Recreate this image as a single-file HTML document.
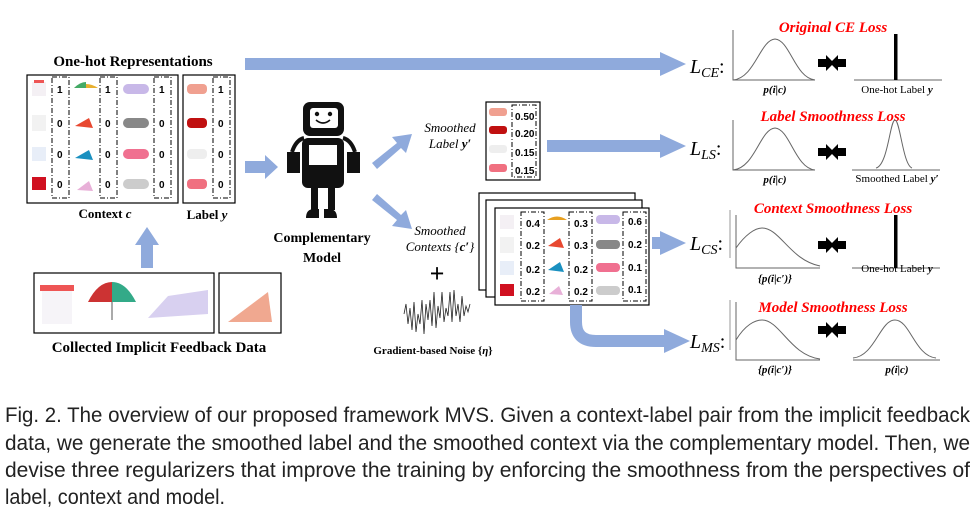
<!DOCTYPE html>
<html><head><meta charset="utf-8"><style>
html,body{margin:0;padding:0;background:#fff;}
svg{display:block}
.b{font-family:"Liberation Serif",serif;font-weight:bold;}
.i{font-family:"Liberation Serif",serif;font-style:italic;}
.r{font-family:"Liberation Serif",serif;font-style:italic;font-weight:bold;fill:#f00;font-size:15px;}
.n{font-family:"Liberation Sans",sans-serif;font-weight:bold;font-size:10px;}
.cap{font-family:"Liberation Sans Narrow","Liberation Sans",sans-serif;font-size:21px;fill:#222;}
</style></head><body>
<svg width="977" height="511" viewBox="0 0 977 511" xmlns="http://www.w3.org/2000/svg">
<defs>
<g id="dcol"><rect x="0" y="0" width="17" height="121" fill="none" stroke="#000" stroke-width="1" stroke-dasharray="5,2,1,2"/></g>
</defs>
<!-- One-hot -->
<text x="133" y="66" class="b" font-size="15" text-anchor="middle">One-hot Representations</text>
<rect x="27" y="75" width="151" height="128" fill="none" stroke="#000" stroke-width="1.2"/>
<rect x="183" y="75" width="52" height="128" fill="none" stroke="#000" stroke-width="1.2"/>
<use href="#dcol" x="52" y="77"/><use href="#dcol" x="100" y="77"/><use href="#dcol" x="154" y="77"/><use href="#dcol" x="213" y="77"/>
<g class="n">
<text x="57" y="93">1</text><text x="57" y="127">0</text><text x="57" y="158">0</text><text x="57" y="188">0</text>
<text x="105" y="93">1</text><text x="105" y="127">0</text><text x="105" y="158">0</text><text x="105" y="188">0</text>
<text x="159" y="93">1</text><text x="159" y="127">0</text><text x="159" y="158">0</text><text x="159" y="188">0</text>
<text x="218" y="93">1</text><text x="218" y="127">0</text><text x="218" y="158">0</text><text x="218" y="188">0</text>
</g>
<!-- product icons context -->
<g>
<rect x="32" y="82" width="14" height="14" fill="#f4f0f4"/><rect x="34" y="80" width="10" height="3" fill="#e55"/>
<rect x="32" y="115" width="14" height="16" fill="#f2f2f2"/>
<rect x="32" y="147" width="14" height="14" fill="#e8eef8"/>
<rect x="32" y="177" width="14" height="13" fill="#d01020"/>
<path d="M74 88 q12 -8 24 0 z" fill="#e8b030"/><path d="M74 88 q6 -6 12 -6 l0 6z" fill="#4a6"/>
<path d="M75 126 l14 -8 l4 10z" fill="#e84830"/>
<path d="M75 158 l14 -8 l4 10z" fill="#1a90c0"/>
<path d="M77 190 l12 -9 l4 10z" fill="#e8b0d8"/>
<rect x="123" y="84" width="26" height="10" rx="5" fill="#c8b8e8"/>
<rect x="123" y="118" width="26" height="10" rx="5" fill="#888"/>
<rect x="123" y="149" width="26" height="10" rx="5" fill="#f07090"/>
<rect x="123" y="179" width="26" height="10" rx="5" fill="#ccc"/>
<rect x="187" y="84" width="20" height="10" rx="4" fill="#f0a090"/>
<rect x="187" y="118" width="20" height="10" rx="4" fill="#c01010"/>
<rect x="187" y="149" width="20" height="10" rx="4" fill="#eee"/>
<rect x="187" y="179" width="20" height="10" rx="4" fill="#f07080"/>
</g>
<text x="105" y="218" class="b" font-size="13" text-anchor="middle">Context <tspan font-style="italic">c</tspan></text>
<text x="207" y="219" class="b" font-size="13" text-anchor="middle">Label <tspan font-style="italic">y</tspan></text>
<!-- up arrow -->
<polygon points="141,268 153,268 153,245 159,245 147,227 135,245 141,245" fill="#8faadc"/>
<!-- collected -->
<rect x="34" y="273" width="180" height="60" fill="none" stroke="#000" stroke-width="1.2"/>
<rect x="219" y="273" width="62" height="60" fill="none" stroke="#000" stroke-width="1.2"/>
<rect x="42" y="288" width="30" height="36" fill="#f6f4f8"/><rect x="40" y="285" width="34" height="6" fill="#e55"/>
<path d="M88 302 q24 -28 48 0 z" fill="#e8a020"/><path d="M88 302 q10 -20 24 -20 l0 20z" fill="#c33"/><path d="M112 282 q14 0 24 20 l-24 0z" fill="#3a8"/><line x1="112" y1="302" x2="112" y2="320" stroke="#555"/>
<path d="M148 318 l20 -22 l40 -6 l0 24 z" fill="#d8d0f0"/>
<path d="M228 322 l20 -15 l20 -15 l4 30 z" fill="#f0a890"/>
<text x="159" y="352" class="b" font-size="15" text-anchor="middle">Collected Implicit Feedback Data</text>
<!-- top long arrow -->
<polygon points="245,58 660,58 660,52 686,64 660,76 660,70 245,70" fill="#8faadc"/>
<!-- arrow to robot -->
<polygon points="245,161 265,161 265,155 278,167 265,179 265,173 245,173" fill="#8faadc"/>
<!-- robot -->
<rect x="303" y="102" width="41" height="34" rx="7" fill="#111"/>
<rect x="310" y="108" width="28" height="20" rx="3" fill="#fff"/>
<circle cx="317" cy="114" r="2.2" fill="#111"/><circle cx="330" cy="114" r="2.2" fill="#111"/>
<path d="M316 120 q7 6 14 0" stroke="#111" stroke-width="1.6" fill="none"/>
<rect x="302" y="138" width="42" height="50" rx="6" fill="#111"/>
<rect x="309" y="145" width="28" height="20" fill="#fff"/>
<rect x="287" y="152" width="13" height="21" fill="#111"/><rect x="347" y="152" width="13" height="21" fill="#111"/>
<path d="M292 152 q4 -12 12 -14" stroke="#111" stroke-width="4" fill="none"/><path d="M355 152 q-4 -12 -12 -14" stroke="#111" stroke-width="4" fill="none"/>
<rect x="311" y="188" width="7" height="22" fill="#111"/><rect x="328" y="188" width="7" height="22" fill="#111"/>
<path d="M306 218 q0 -9 8 -9 l5 0 l0 9z" fill="#111"/><path d="M324 218 l0 -9 l5 0 q8 0 8 9z" fill="#111"/>
<text x="322" y="242" class="b" font-size="14" text-anchor="middle">Complementary</text>
<text x="322" y="262" class="b" font-size="14" text-anchor="middle">Model</text>
<!-- diagonal arrows -->
<polygon points="372,163 397,143 392,137 412,134 406,153 401,148 377,169" fill="#8faadc"/>
<polygon points="372,200 397,220 392,226 412,229 406,210 401,215 377,194" fill="#8faadc"/>
<text x="450" y="132" class="i" font-size="13" text-anchor="middle">Smoothed</text>
<text x="450" y="148" class="i" font-size="13" text-anchor="middle">Label <tspan font-weight="bold">y′</tspan></text>
<!-- smoothed label box -->
<rect x="486" y="102" width="54" height="78" fill="none" stroke="#000" stroke-width="1.2"/>
<rect x="512" y="105" width="24" height="72" fill="none" stroke="#000" stroke-dasharray="5,2,1,2"/>
<rect x="489" y="108" width="18" height="8" rx="3" fill="#f0a090"/>
<rect x="489" y="126" width="18" height="8" rx="3" fill="#c01010"/>
<rect x="489" y="145" width="18" height="8" rx="3" fill="#eee"/>
<rect x="489" y="164" width="18" height="8" rx="3" fill="#f07080"/>
<g class="n" font-size="9"><text x="515" y="120">0.50</text><text x="515" y="137">0.20</text><text x="515" y="156">0.15</text><text x="515" y="174">0.15</text></g>
<polygon points="547,140 660,140 660,134 686,146 660,158 660,152 547,152" fill="#8faadc"/>
<text x="440" y="235" class="i" font-size="13" text-anchor="middle">Smoothed</text>
<text x="440" y="251" class="i" font-size="13" text-anchor="middle">Contexts {<tspan font-weight="bold">c′</tspan>}</text>
<text x="437" y="282" class="b" font-size="26" text-anchor="middle">+</text>
<!-- noise -->
<g stroke="#222" stroke-width="0.8">
<path d="M404 314 l2 -10 l2 20 l2 -16 l2 22 l2 -28 l2 30 l2 -18 l2 10 l2 -24 l2 34 l2 -30 l2 16 l2 -20 l2 26 l2 -34 l2 36 l2 -22 l2 12 l2 -26 l2 30 l2 -14 l2 8 l2 -24 l2 30 l2 -32 l2 26 l2 -12 l2 18 l2 -26 l2 20 l2 -10 l2 6 l2 -8" fill="none"/>
</g>
<text x="433" y="354" class="b" font-size="11" text-anchor="middle">Gradient-based Noise {<tspan font-style="italic">η</tspan>}</text>
<!-- stacked boxes -->
<rect x="479" y="193" width="156" height="97" fill="#fff" stroke="#000" stroke-width="1.2"/>
<rect x="486" y="200" width="156" height="97" fill="#fff" stroke="#000" stroke-width="1.2"/>
<rect x="495" y="208" width="154" height="97" fill="#fff" stroke="#000" stroke-width="1.2"/>
<rect x="521" y="212" width="23" height="89" fill="none" stroke="#000" stroke-dasharray="5,2,1,2"/>
<rect x="569" y="212" width="23" height="89" fill="none" stroke="#000" stroke-dasharray="5,2,1,2"/>
<rect x="623" y="212" width="23" height="89" fill="none" stroke="#000" stroke-dasharray="5,2,1,2"/>
<rect x="500" y="215" width="14" height="14" fill="#f4f0f4"/><rect x="500" y="237" width="14" height="16" fill="#f2f2f2"/><rect x="500" y="261" width="14" height="14" fill="#e8eef8"/><rect x="500" y="284" width="14" height="12" fill="#d01020"/>
<path d="M547 220 q10 -7 20 0z" fill="#e8a020"/><path d="M548 246 l12 -8 l4 10z" fill="#e84830"/><path d="M548 270 l12 -8 l4 10z" fill="#1a90c0"/><path d="M549 294 l10 -8 l4 9z" fill="#e8b0d8"/>
<rect x="596" y="215" width="24" height="9" rx="4" fill="#c8b8e8"/><rect x="596" y="240" width="24" height="9" rx="4" fill="#888"/><rect x="596" y="263" width="24" height="9" rx="4" fill="#f07090"/><rect x="596" y="286" width="24" height="9" rx="4" fill="#ccc"/>
<g class="n"><text x="526" y="227">0.4</text><text x="526" y="249">0.2</text><text x="526" y="273">0.2</text><text x="526" y="295">0.2</text>
<text x="574" y="227">0.3</text><text x="574" y="249">0.3</text><text x="574" y="273">0.2</text><text x="574" y="295">0.2</text>
<text x="628" y="225">0.6</text><text x="628" y="248">0.2</text><text x="628" y="271">0.1</text><text x="628" y="293">0.1</text></g>
<polygon points="660,237 660,231 686,243 660,255 660,249 652,249 652,237" fill="#8faadc"/>
<path d="M576 305 L576 322 Q576 341 596 341 L664 341" stroke="#8faadc" stroke-width="12" fill="none"/>
<polygon points="664,329 690,341 664,353" fill="#8faadc"/>
<g font-family="Liberation Serif,serif" font-style="italic" font-size="20">
<text x="690" y="73">L<tspan font-size="14" dy="4">CE</tspan><tspan dy="-4" font-style="normal">:</tspan></text>
<text x="690" y="155">L<tspan font-size="14" dy="4">LS</tspan><tspan dy="-4" font-style="normal">:</tspan></text>
<text x="690" y="250">L<tspan font-size="14" dy="4">CS</tspan><tspan dy="-4" font-style="normal">:</tspan></text>
<text x="690" y="348">L<tspan font-size="14" dy="4">MS</tspan><tspan dy="-4" font-style="normal">:</tspan></text>
</g>
<!-- titles -->
<text x="833" y="32" class="r" text-anchor="middle">Original CE Loss</text>
<text x="833" y="121" class="r" text-anchor="middle">Label Smoothness Loss</text>
<text x="833" y="213" class="r" text-anchor="middle">Context Smoothness Loss</text>
<text x="833" y="312" class="r" text-anchor="middle">Model Smoothness Loss</text>
<!-- charts -->
<g fill="none" stroke="#666" stroke-width="1">
<path d="M733 30 V80 H815"/><path d="M733 80 C755 78 760 40 775 39 C790 40 795 78 815 80"/>
<path d="M854 80 H942"/>
<path d="M733 120 V170 H815"/><path d="M733 170 C755 168 760 129 775 128 C790 129 795 168 815 170"/>
<path d="M852 170 H940"/><path d="M876 168 C888 165 890 120 895 120 C900 120 903 165 912 168"/>
<path d="M736 215 V268 H820"/><path d="M730 210 V258" stroke="#999"/><path d="M736 248 C745 235 755 228 762 228 C780 228 790 260 820 266"/>
<path d="M852 268 H940"/>
<path d="M736 302 V360 H820"/><path d="M730 300 V350" stroke="#999"/><path d="M736 340 C745 325 755 320 762 320 C780 320 790 355 820 359"/>
<path d="M853 360 H940"/><path d="M853 358 C875 356 880 320 895 320 C910 320 915 356 936 358"/>
</g>
<rect x="894" y="34" width="3.5" height="46" fill="#000"/>
<rect x="894" y="215" width="3.5" height="53" fill="#000"/>
<g fill="#000">
<polygon points="818,59 826,59 826,55 834,63 826,71 826,67 818,67"/><polygon points="846,59 838,59 838,55 830,63 838,71 838,67 846,67"/>
<polygon points="818,148 826,148 826,144 834,152 826,160 826,156 818,156"/><polygon points="846,148 838,148 838,144 830,152 838,160 838,156 846,156"/>
<polygon points="818,241 826,241 826,237 834,245 826,253 826,249 818,249"/><polygon points="846,241 838,241 838,237 830,245 838,253 838,249 846,249"/>
<polygon points="818,326 826,326 826,322 834,330 826,338 826,334 818,334"/><polygon points="846,326 838,326 838,322 830,330 838,338 838,334 846,334"/>
</g>
<g font-family="Liberation Serif,serif" font-size="11" text-anchor="middle">
<text x="775" y="93" font-weight="bold" font-style="italic">p(i|c)</text>
<text x="897" y="93">One-hot Label <tspan font-weight="bold" font-style="italic">y</tspan></text>
<text x="775" y="183" font-weight="bold" font-style="italic">p(i|c)</text>
<text x="897" y="182">Smoothed Label <tspan font-weight="bold" font-style="italic">y′</tspan></text>
<text x="775" y="282" font-weight="bold" font-style="italic">{p(i|c′)}</text>
<text x="897" y="272">One-hot Label <tspan font-weight="bold" font-style="italic">y</tspan></text>
<text x="775" y="373" font-weight="bold" font-style="italic">{p(i|c′)}</text>
<text x="897" y="373" font-weight="bold" font-style="italic">p(i|c)</text>
</g>
<!-- caption -->
<text x="5" y="422" class="cap" textLength="965" lengthAdjust="spacingAndGlyphs">Fig. 2.  The overview of our proposed framework MVS. Given a context-label pair from the implicit feedback</text>
<text x="5" y="450" class="cap" textLength="965" lengthAdjust="spacingAndGlyphs">data, we generate the smoothed label and the smoothed context via the complementary model. Then, we</text>
<text x="5" y="477" class="cap" textLength="965" lengthAdjust="spacingAndGlyphs">devise three regularizers that improve the training by enforcing the smoothness from the perspectives of</text>
<text x="5" y="504" class="cap" textLength="220" lengthAdjust="spacingAndGlyphs">label, context and model.</text>
</svg>
</body></html>
